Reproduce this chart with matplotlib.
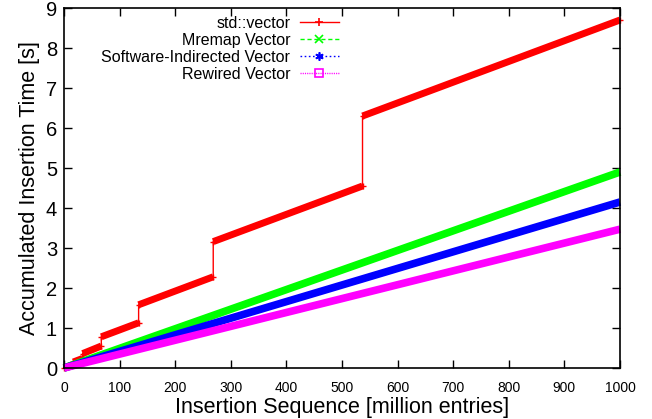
import numpy as np
import matplotlib.pyplot as plt
from matplotlib.lines import Line2D

plt.rcParams['font.family'] = ['Liberation Sans', 'DejaVu Sans']

# std::vector steps (capacity doubling)
std_x = [0, 16.7, 16.7, 33.5, 33.5, 67.1, 67.1, 134.2, 134.2, 268.4, 268.4, 536.9, 536.9, 1000]
std_y = [0, 0.09, 0.15, 0.24, 0.36, 0.55, 0.78, 1.13, 1.58, 2.28, 3.16, 4.55, 6.3, 8.7]

lin_x = [0, 1000]
mremap_y = [0, 4.9]
sw_y = [0, 4.15]
rewired_y = [0, 3.47]

labels = ["std::vector", "Mremap Vector", "Software-Indirected Vector", "Rewired Vector"]
colors = ["#ff0000", "#00ff00", "#0000ff", "#ff00ff"]
markers = ["+", "x", (6, 2, 0), "s"]
dashes = [None, (3, 2), (1.2, 1.8), (0.8, 0.8)]

fig = plt.figure(figsize=(6.52, 4.19), dpi=100)
ax = fig.add_axes([64/652, 51/419, 556/652, 360/419])

# thick band on sloped segments, thin line on jumps
for i in range(len(std_x) - 1):
    if std_x[i] != std_x[i+1]:
        ax.plot(std_x[i:i+2], std_y[i:i+2], color=colors[0], lw=5, solid_capstyle='butt', clip_on=False)
ax.plot(std_x, std_y, color=colors[0], lw=1, marker='+', ms=5, mew=1, clip_on=False)

for ys, c in zip([mremap_y, sw_y, rewired_y], colors[1:]):
    ax.plot(lin_x, ys, color=c, lw=5.5, solid_capstyle='butt', clip_on=False)

ax.set_xlim(0, 1000)
ax.set_ylim(0, 9)
ax.set_xticks(np.arange(0, 1001, 100))
ax.set_yticks(np.arange(0, 10, 1))
ax.tick_params(axis='x', labelsize=10, direction='in', top=True, length=6, width=1, pad=9)
ax.tick_params(axis='y', labelsize=14.5, direction='in', right=True, length=6, width=1, pad=5)
for s in ax.spines.values():
    s.set_linewidth(1.2)

ax.set_xlabel("Insertion Sequence [million entries]", fontsize=15.5, labelpad=2)
ax.set_ylabel("Accumulated Insertion Time [s]", fontsize=15.5, labelpad=4)

handles = []
for c, m, d in zip(colors, markers, dashes):
    h = Line2D([], [], color=c, lw=1, marker=m, ms=6, mew=1.2,
               markerfacecolor='none' if m == 's' else c)
    if d is not None:
        h.set_dashes(d)
    handles.append(h)
ax.legend(handles, labels, loc='upper right', bbox_to_anchor=(339/652, 1 - 16/419),
          bbox_transform=fig.transFigure, frameon=False, markerfirst=False,
          fontsize=11.5, handlelength=2.45, handletextpad=0.6, labelspacing=0.12,
          borderpad=0, borderaxespad=0)

fig.savefig("out.png", dpi=100)
